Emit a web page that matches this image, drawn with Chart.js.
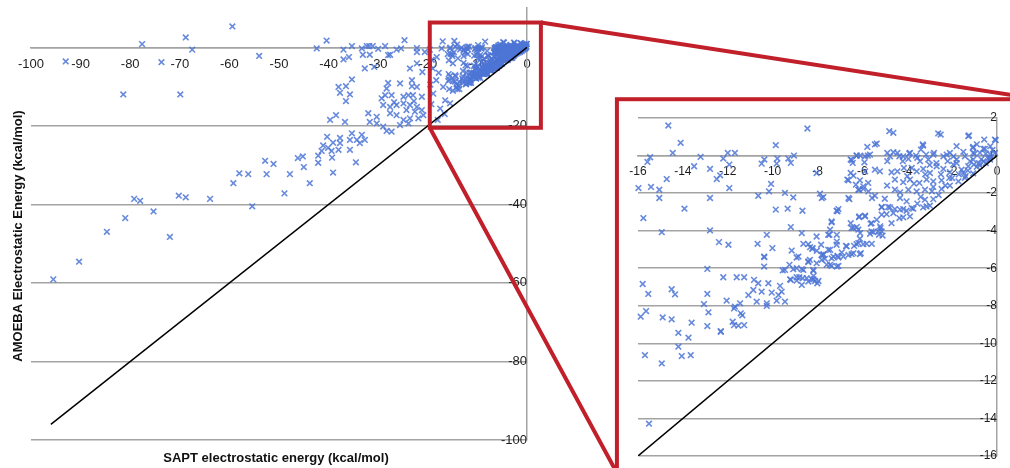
<!DOCTYPE html>
<html>
<head>
<meta charset="utf-8">
<title>AMOEBA vs SAPT electrostatics</title>
<script src="https://cdn.jsdelivr.net/npm/chart.js@4.4.1/dist/chart.umd.min.js"></script>
<style>
  html, body { margin: 0; padding: 0; background: #fff; }
  #wrap { position: relative; width: 1010px; height: 468px; overflow: hidden; }
  canvas { position: absolute; left: 0; top: 0; }
</style>
</head>
<body>
<div id="wrap">
  <canvas id="main-chart" width="1010" height="468"></canvas>
  <canvas id="zoom-chart" width="1010" height="468"></canvas>
</div>
<script>
// data //
// [SAPT, AMOEBA] pairs in kcal/mol

// points outside the zoomed window (only on the big plot)
const outerPoints = [
  [-93.0,-3.6],[-77.6,0.8],[-68.8,2.5],[-67.5,-0.6],[-73.7,-3.8],[-59.4,5.3],[-54.0,-2.2],
  [-42.4,-0.3],[-40.4,1.7],[-81.4,-12.0],[-69.9,-12.0],[-39.7,-18.5],[-38.5,-17.3],[-40.3,-22.8],
  [-45.2,-27.8],[-46.2,-28.2],[-52.8,-28.9],[-51.1,-29.7],[-42.1,-29.4],[-45.0,-30.5],
  [-58.0,-32.1],[-56.2,-32.3],[-52.5,-32.3],[-47.8,-32.3],[-39.1,-31.9],[-59.2,-34.6],[-43.8,-34.6],
  [-48.9,-37.2],[-79.2,-38.6],[-78.0,-39.1],[-70.2,-37.8],[-68.8,-38.2],[-63.9,-38.6],[-55.4,-40.5],
  [-75.3,-41.8],[-81.0,-43.5],[-84.7,-47.0],[-72.0,-48.3],[-90.3,-54.6],[-95.5,-59.1],
  [-37.0,-0.6],[-35.3,0.3],[-35.9,-2.5],[-37.0,-3.1],[-33.3,-0.3],[-32.3,0.3],[-31.8,0.3],[-31.1,0.3],
  [-33.1,-1.9],[-31.7,-1.9],[-32.7,-5.4],[-28.6,0.3],[-27.6,-1.9],[-26.3,-0.6],[-24.7,1.8],[-22.2,-0.2],
  [-20.6,-1.2],[-22.2,-1.2],[-23.6,-5.4],[-22.2,-4.1],[-21.1,-6.3],[-30.0,-0.4],[-25.4,-0.3],[-30.8,-5.0],[-28.0,-2.0],
  [-35.3,-8.2],[-36.5,-9.9],[-38.0,-10.1],[-37.7,-11.6],[-35.7,-12.0],[-36.5,-13.7],
  [-28.0,-9.1],[-28.3,-10.5],[-25.6,-9.2],[-23.2,-9.9],[-28.6,-12.2],[-27.3,-12.2],[-24.9,-12.6],[-23.9,-12.2],[-23.0,-12.2],
  [-29.3,-13.0],[-26.8,-14.0],[-22.8,-13.7],[-21.2,-12.6],[-22.2,-10.1],[-23.2,-8.4],
  [-29.0,-14.7],[-27.6,-15.2],[-26.3,-14.7],[-24.9,-14.3],[-23.6,-14.7],[-22.2,-15.2],[-24.3,-16.0],[-22.6,-16.4],[-21.2,-16.0],
  [-32.0,-16.8],[-30.3,-17.7],[-27.6,-16.8],[-26.3,-17.3],[-24.9,-18.5],[-23.6,-18.1],[-21.9,-18.1],[-20.9,-17.3],
  [-36.7,-19.0],[-31.7,-19.0],[-30.3,-19.4],[-28.3,-21.3],[-27.3,-21.5],[-29.0,-20.2],[-25.6,-19.8],[-23.9,-19.4],
  [-35.3,-21.9],[-33.3,-22.3],[-35.7,-23.6],[-34.3,-23.6],[-32.7,-23.6],[-33.7,-24.4],
  [-37.7,-23.1],[-39.1,-24.3],[-37.7,-24.4],[-41.1,-25.0],[-40.1,-25.6],[-38.0,-26.1],[-39.4,-26.4],[-41.4,-26.4],[-42.1,-27.6],
  [-35.7,-26.1],[-39.3,-28.1],[-34.5,-29.3],
  [-19.6,-0.6],[-19.0,-5.4],[-18.3,-8.4],[-18.9,-11.8],[-17.5,-15.6],[-16.5,-13.5],[-16.9,-10.1],[-18.2,-2.5],
  [-17.2,-0.3],[-19.2,-3.2],[-17.8,-6.5],[-19.5,-9.5],[-16.6,-17.0],[-19.3,-14.5],[-18.0,-18.5],[-17.0,1.5]
]

// points inside the zoomed window (on both plots)
const innerPoints = [
  [-14.65,1.60],[-8.45,1.44],[-14.10,0.68],[-9.86,0.55],[-15.46,-0.09],[-15.58,-0.34],[-14.45,0.14],[-13.21,-0.07],
  [-12.20,-0.16],[-12.00,0.14],[-11.68,0.14],[-13.50,-0.57],[-12.79,-0.71],[-12.34,-1.05],[-12.49,-1.25],[-14.72,-1.25],
  [-11.93,-0.48],[-10.37,-0.21],[-10.49,-0.43],[-9.79,-0.16],[-9.82,-0.43],[-9.30,-0.16],[-9.19,-0.39],[-9.05,0.00],
  [-10.07,-1.51],[-10.16,-1.91],[-15.98,-1.73],[-15.42,-1.67],[-15.05,-1.82],[-15.05,-2.26],[-12.79,-2.26],[-11.93,-1.73],
  [-10.64,-2.14],[-9.45,-1.99],[-9.08,-2.23],[-13.93,-2.83],[-15.76,-3.33],[-9.86,-2.88],[-9.33,-2.83],[-8.67,-2.94],
  [-14.94,-4.08],[-12.79,-3.99],[-9.19,-3.81],[-10.26,-4.22],[-8.70,-4.13],[-8.04,-4.31],[-12.39,-4.61],[-11.97,-4.75],
  [-10.67,-4.70],[-10.01,-4.93],[-10.38,-5.38],[-9.15,-5.06],[-8.93,-5.43],[-8.63,-4.70],[-8.33,-4.88],[-8.41,-5.64],
  [-9.25,-5.82],[-9.45,-6.09],[-9.08,-6.05],[-8.70,-6.05],[-8.18,-6.13],[-10.38,-5.91],[-12.91,-6.04],[-12.20,-6.48],
  [-11.60,-6.48],[-11.27,-6.48],[-10.83,-6.62],[-10.64,-6.80],[-10.19,-6.80],[-9.67,-6.94],[-9.19,-6.62],[-8.93,-6.48],
  [-8.66,-6.53],[-8.26,-6.59],[-8.01,-6.80],[-15.79,-6.84],[-15.54,-7.37],[-14.50,-7.12],[-14.35,-7.39],[-12.91,-7.37],
  [-10.86,-7.16],[-10.49,-7.25],[-10.04,-7.30],[-9.60,-7.25],[-11.08,-7.43],[-10.71,-7.78],[-10.26,-7.87],[-9.82,-7.73],
  [-9.45,-7.78],[-12.05,-7.73],[-11.45,-7.87],[-13.06,-7.91],[-11.68,-8.05],
  [-12.86,-8.35],[-11.72,-8.14],[-11.42,-8.40],[-11.78,-8.85],[-11.35,-8.51],[-15.64,-8.28],[-15.88,-8.58],[-14.90,-8.62],
  [-14.50,-8.72],[-13.61,-8.90],[-12.91,-9.08],[-12.31,-9.35],[-11.72,-9.03],[-11.53,-9.06],[-11.27,-9.03],[-14.20,-9.44],
  [-13.75,-9.70],[-14.20,-10.18],[-10.26,-8.01],[-9.74,-7.43],
  [-15.51,-14.28],[-15.69,-10.63],[-14.94,-11.07],[-14.05,-10.68],[-13.65,-10.63],[-12.31,-9.39],
  [-10.37,-5.41],[-8.41,-4.72],[-8.23,-4.97],[-8.85,-5.38],[-8.41,-5.68],[-8.03,-5.07],[-7.84,-4.75],[-7.47,-4.22],
  [-7.14,-4.22],[-7.44,-3.95],[-7.37,-3.56],[-7.11,-2.97],[-6.52,-3.60],[-6.25,-3.81],[-6.10,-4.13],[-5.66,-4.17],
  [-5.51,-4.08],[-5.26,-4.22],[-5.14,-4.04],[-5.21,-3.77],[-5.63,-3.63],[-5.88,-3.20],[-6.15,-3.28],[-6.40,-3.86],
  [-6.73,-4.81],[-7.14,-4.58],[-7.44,-5.02],[-7.74,-5.29],[-7.81,-5.56],[-7.44,-5.82],[-7.14,-5.91],[-7.29,-5.38],
  [-7.11,-5.34],[-6.92,-5.16],[-6.62,-5.29],[-6.37,-4.81],[-6.18,-4.66],[-5.81,-4.70],[-5.58,-4.70],[-6.07,-5.20],
  [-6.40,-5.20],[-9.55,-6.12],[-8.93,-6.00],[-8.63,-6.09],[-8.81,-6.48],[-8.48,-6.53],[-8.18,-6.59],[-8.93,-6.66],
  [-9.22,-6.59],[-8.70,-6.89],[-8.41,-6.71],[-7.96,-6.68],[-8.18,-6.41],
  [-7.15,-2.94],[-7.37,-3.51],[-8.22,-4.93],[-8.34,-5.56],[-8.19,-6.09],[-8.11,-6.68],[-7.52,-4.22],[-6.14,-3.24],
  [-5.88,-3.24],[-6.48,-3.86],[-6.18,-3.95],[-5.59,-3.60],[-5.36,-3.42],[-5.14,-3.15],[-4.92,-3.12],[-5.19,-3.86],
  [-5.59,-4.04],[-5.29,-4.04],[-5.10,-4.26],[-6.11,-4.43],[-6.26,-4.72],[-5.96,-4.72],[-6.70,-4.84],[-7.15,-4.75],
  [-7.52,-5.02],[-7.82,-5.29],[-7.67,-5.50],[-7.37,-5.47],[-7.07,-5.43],[-6.85,-5.38],[-6.48,-5.25],[-6.11,-5.25],
  [-7.59,-5.82],[-7.37,-5.88],[-7.07,-5.88],[-7.74,-5.25],[-8.04,-5.73],
  [-5.14,-2.76],[-4.77,-2.76],[-4.62,-3.06],[-4.32,-2.88],[-4.03,-2.94],[-3.73,-2.83],[-4.35,-3.33],[-4.70,-3.60],
  [-4.18,-3.29],[-3.88,-3.24],[-3.29,-2.76],[-2.99,-2.67],
  [-8.04,-0.93],[-7.74,-2.21],[-7.07,-2.85],[-6.58,-2.32],[-6.14,-1.82],
  [-4.80,1.30],[-4.62,1.21],[-2.62,1.18],[-1.25,1.07],[-1.06,0.46],[-0.54,0.36],[-0.06,0.82],[-0.57,0.85],
  [-0.09,0.14],[-1.06,0.14],[-5.78,0.46],[-5.36,0.64],[-5.88,-0.04],[-5.66,0.05],[-6.52,-0.21],[-6.26,0.00],
  [-6.43,-0.39],[-5.88,-0.84],[-5.44,-0.75],[-5.22,-0.84],[-6.52,-0.93],[-6.67,-1.28],[-6.11,-1.32],[-5.74,-1.46],
  [-5.96,-1.78],[-6.29,-1.55],[-5.57,-2.26],
  [-4.89,-0.30],[-4.77,-0.04],[-4.44,0.14],[-4.18,-0.04],[-3.88,0.14],[-3.55,-0.12],[-3.29,0.53],[-3.39,0.32],
  [-3.06,-0.21],[-2.81,0.14],[-2.39,-0.04],[-2.10,0.14],[-1.80,0.50],[-1.80,-0.21],[-1.43,-0.04],[-1.06,-0.21],
  [-0.76,0.14],[-0.31,-0.21],
  [-4.70,-0.89],[-4.44,-0.84],[-4.15,-0.66],[-3.80,-0.66],[-3.58,-0.84],[-3.29,-0.71],[-2.99,-0.93],[-2.69,-0.57],
  [-2.39,-0.71],[-2.10,-0.89],[-1.95,-0.48],[-1.58,-0.75],[-1.28,-0.57],[-1.03,-0.48],[-0.76,-0.53],[-0.50,-0.40],
  [-0.30,-0.10],
  [-4.55,-1.28],[-4.18,-1.42],[-3.88,-1.28],[-3.46,-1.46],[-3.14,-1.28],[-2.84,-1.37],[-2.47,-1.32],[-2.13,-1.19],
  [-1.72,-1.37],[-1.43,-1.19],[-1.06,-0.95],
  [-4.55,-1.82],[-4.32,-1.96],[-3.95,-1.82],[-3.58,-1.91],[-3.21,-1.82],[-2.84,-1.67],[-2.47,-1.78],[-2.10,-1.60],
  [-5.14,-2.74],[-4.85,-2.74],[-4.55,-2.85],[-4.18,-2.85],[-3.80,-2.80],[-3.55,-2.56],[-3.21,-2.35],[-2.84,-2.32],
  [-4.03,-2.44],[-4.32,-2.26],[-3.14,-2.71],
  [-6.47,-0.25],[-6.25,0.00],[-6.10,0.00],[-5.76,0.00],[-5.91,-0.36],[-5.44,0.59],[-4.89,0.14],[-4.62,0.18],
  [-4.35,-0.04],[-4.20,-0.30],[-3.95,-0.18],[-3.91,0.11],[-3.61,0.00],[-3.43,-0.30],[-3.31,0.59],[-3.16,0.05],
  [-2.51,1.12],[-2.84,0.05],[-2.24,0.05],[-1.94,-0.04],[-1.28,1.03],[-1.08,0.41],[-0.09,0.85],[-0.61,0.36],
  [-6.62,-1.32],[-6.40,-1.07],[-6.18,-1.82],[-5.96,-1.64],[-5.73,-1.91],[-6.62,-2.26],[-7.81,-2.26],[-7.89,-2.03],[-5.44,-2.14],
  [-1.80,-0.40],[-1.50,-0.90],[-1.20,-0.30],[-0.90,-0.60],[-0.70,-0.20],[-0.50,0.10],[-0.30,0.05],[-0.20,0.30],
  [-1.00,0.10],[-1.40,-1.10],[-1.30,-0.80],[-0.80,-0.40],[-0.60,-0.30],[-0.40,-0.15],[-2.20,-0.30],[-2.50,-1.00],
  [-2.70,-0.40],[-3.00,-0.50],[-2.00,-1.20],[-2.30,-1.60],[-1.70,-1.00],[-2.60,-2.10],[-3.40,-2.20],[-3.70,-1.50],
  [-4.00,-1.10],[-4.90,-1.60],[-5.00,-2.30],[-2.90,-1.90],[-3.20,-1.00],[-1.50,0.20],[-0.90,0.60],[-0.30,0.50]
]

// y = x reference lines
const mainDiagonal = [-96, 0]
const zoomDiagonal = [-16, 0]

// tick labels
const mainXTicks = [-100, -90, -80, -70, -60, -50, -40, -30, -20, -10, 0]
const mainYTicks = [0, -20, -40, -60, -80, -100]
const zoomXTicks = [-16, -14, -12, -10, -8, -6, -4, -2, 0]
const zoomYTicks = [2, 0, -2, -4, -6, -8, -10, -12, -14, -16]

// axis titles
const xTitle = 'SAPT electrostatic energy (kcal/mol)'
const yTitle = 'AMOEBA Electrostatic Energy (kcal/mol)'

// zoom box on the big plot and the frame around the inset (data units)
const zoomBox = { x0: -19.6, x1: 2.8, y0: -20.5, y1: 6.3 }
const insetFrame = { x0: -16.94, x1: 1.9, y0: -16.9, y1: 3.0 }

// styles //
const gridGray = '#a3a3a3'
const markerBlue = 'rgba(78, 118, 214, 0.85)'
const zoomRed = '#c1202b'

Chart.defaults.font.family = '"Liberation Sans", Arial, sans-serif'
Chart.defaults.color = '#1e1e1e'

function toXY(list) {
  return list.map(p => ({ x: p[0], y: p[1] }))
}

function fixedTicks(values) {
  return scale => { scale.ticks = values.map(v => ({ value: v })) }
}

// axes sit inside the plot, so they must not push the plot area around
function noPadding(scale) {
  scale.paddingTop = 0
  scale.paddingBottom = 0
  scale.paddingLeft = 0
  scale.paddingRight = 0
}

function scatterSet(points) {
  return {
    type: 'scatter',
    data: toXY(points),
    pointStyle: 'crossRot',
    pointRadius: 4,
    pointBorderWidth: 1.6,
    borderColor: markerBlue,
    backgroundColor: markerBlue,
    clip: false,
    order: 2
  }
}

function diagonalSet(ends) {
  return {
    type: 'line',
    data: ends.map(v => ({ x: v, y: v })),
    borderColor: '#000',
    borderWidth: 1.5,
    pointRadius: 0,
    order: 1
  }
}

function axisScales(xMin, xMax, yMin, yMax, xTicks, yTicks, fontSize) {
  return {
    x: {
      type: 'linear', min: xMin, max: xMax,
      position: { y: 0 },
      afterBuildTicks: fixedTicks(xTicks),
      afterFit: noPadding,
      grid: { display: false, drawTicks: false },
      border: { display: true, color: gridGray, width: 1.5 },
      ticks: { padding: 9, autoSkip: false, maxRotation: 0, font: { size: fontSize } }
    },
    y: {
      type: 'linear', min: yMin, max: yMax,
      position: { x: 0 },
      afterBuildTicks: fixedTicks(yTicks),
      afterFit: noPadding,
      grid: { color: gridGray, lineWidth: 1.5, drawTicks: false },
      border: { display: true, color: gridGray, width: 1.5 },
      ticks: { padding: 10, font: { size: fontSize } }
    }
  }
}

// plugins //
const mainExtras = {
  id: 'mainExtras',
  afterDatasetsDraw(chart) {
    const { ctx, scales: { x, y } } = chart
    const l = x.getPixelForValue(zoomBox.x0)
    const r = x.getPixelForValue(zoomBox.x1)
    const t = y.getPixelForValue(zoomBox.y1)
    const b = y.getPixelForValue(zoomBox.y0)
    ctx.save()
    ctx.strokeStyle = zoomRed
    ctx.lineWidth = 4
    ctx.strokeRect(l, t, r - l, b - t)
    ctx.restore()
  },
  afterDraw(chart) {
    const { ctx } = chart
    ctx.save()
    ctx.fillStyle = '#111'
    ctx.font = 'bold 13px "Liberation Sans", Arial, sans-serif'
    ctx.textAlign = 'center'
    ctx.textBaseline = 'middle'
    ctx.fillText(xTitle, 276, 458)
    ctx.translate(18, 236)
    ctx.rotate(-Math.PI / 2)
    ctx.fillText(yTitle, 0, 0)
    ctx.restore()
  }
}

let mainChart

const insetExtras = {
  id: 'insetExtras',
  afterDraw(chart) {
    const { ctx, scales: { x, y } } = chart
    const l = x.getPixelForValue(insetFrame.x0)
    const r = x.getPixelForValue(insetFrame.x1)
    const t = y.getPixelForValue(insetFrame.y1)
    const b = y.getPixelForValue(insetFrame.y0)
    const mx = mainChart.scales.x
    const my = mainChart.scales.y
    ctx.save()
    ctx.strokeStyle = zoomRed
    ctx.lineWidth = 4
    ctx.strokeRect(l, t, r - l, b - t)
    ctx.beginPath()
    ctx.moveTo(mx.getPixelForValue(zoomBox.x1), my.getPixelForValue(zoomBox.y1))
    ctx.lineTo(r, t)
    ctx.moveTo(mx.getPixelForValue(zoomBox.x0), my.getPixelForValue(zoomBox.y0))
    ctx.lineTo(l, b)
    ctx.stroke()
    ctx.restore()
  }
}

// charts //
mainChart = new Chart('main-chart', {
  data: {
    datasets: [scatterSet(outerPoints.concat(innerPoints)), diagonalSet(mainDiagonal)]
  },
  options: {
    responsive: false,
    animation: false,
    devicePixelRatio: 1,
    layout: { padding: { left: 31, right: 483, top: 8, bottom: 28 } },
    scales: axisScales(-100, 0, -100, 10, mainXTicks, mainYTicks, 13),
    plugins: { legend: { display: false }, tooltip: { enabled: false } }
  },
  plugins: [mainExtras]
})

new Chart('zoom-chart', {
  data: {
    datasets: [scatterSet(innerPoints), diagonalSet(zoomDiagonal)]
  },
  options: {
    responsive: false,
    animation: false,
    devicePixelRatio: 1,
    layout: { padding: { left: 638, right: 13, top: 118, bottom: 12 } },
    scales: axisScales(-16, 0, -16, 2, zoomXTicks, zoomYTicks, 12),
    plugins: { legend: { display: false }, tooltip: { enabled: false } }
  },
  plugins: [insetExtras]
})
</script>
</body>
</html>
